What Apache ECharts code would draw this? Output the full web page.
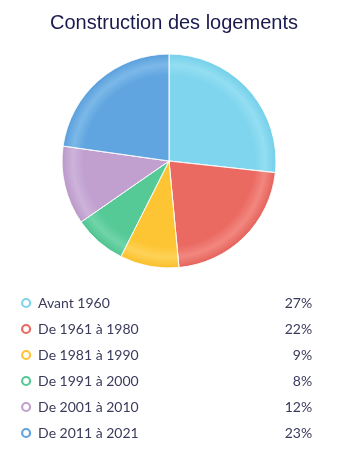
<!DOCTYPE html>
<html><head><meta charset="utf-8">
<script src="https://cdn.jsdelivr.net/npm/echarts@6/dist/echarts.min.js"></script>
<style>html,body{margin:0;padding:0;background:#fff}#c{width:348px;height:465px}</style>
</head><body><div id="c"></div>
<script>
const categories = ['Avant 1960','De 1961 à 1980','De 1981 à 1990','De 1991 à 2000','De 2001 à 2010','De 2011 à 2021'];
const values = [27,22,9,8,12,23];
const colors = ['#7fd5ee','#ea6a62','#fdc533','#55c996','#c1a0d0','#60a5e0'];
const lighter = ['#93def2','#f2877f','#fed257','#70d5a9','#cdb3da','#7bb8e8'];
const darker = ['#74cfe9','#e4625a','#f9bf2a','#4ec390','#ba98c9','#5a9fdc'];

const cx = 169, cy = 161, R = 107;
const chart = echarts.init(document.getElementById('c'));
const data = categories.map((n,i)=>({
  name:n, value:values[i],
  itemStyle:{color:{type:'radial',x:cx,y:cy,r:R,global:true,colorStops:[
    {offset:0,color:colors[i]},{offset:0.8,color:colors[i]},{offset:0.9,color:lighter[i]},{offset:1,color:darker[i]}]}}
}));
chart.setOption({
  title:{text:'Construction des logements',left:'center',top:8,
    textStyle:{fontFamily:'Liberation Sans, Arial',fontSize:20,fontWeight:'normal',color:'#1b1a4f'}},
  legend:{orient:'vertical',left:16,top:291,itemWidth:8,itemHeight:8,itemGap:12,icon:'circle',
    selectedMode:false,
    data:categories.map((n,i)=>({name:n,itemStyle:{color:'#fff',borderColor:colors[i],borderWidth:2.2}})),
    formatter:function(name){const i=categories.indexOf(name);return '{n|'+name+'}{v|'+values[i]+'%}';},
    textStyle:{fontFamily:'Lato, Noto Sans',fontSize:14,color:'#3a3b5c',
      rich:{n:{width:230,padding:[0,0,0,3],fontSize:14,color:'#3a3b5c',lineHeight:16},v:{width:44,align:'right',fontSize:14,color:'#3a3b5c',lineHeight:16}}}
  },
  series:[{type:'pie',center:[cx,cy],radius:[0,R],startAngle:90,clockwise:true,
    label:{show:false},labelLine:{show:false},silent:true,
    itemStyle:{borderColor:'rgba(255,255,255,0.6)',borderWidth:1},
    data:data}]
});
</script></body></html>
